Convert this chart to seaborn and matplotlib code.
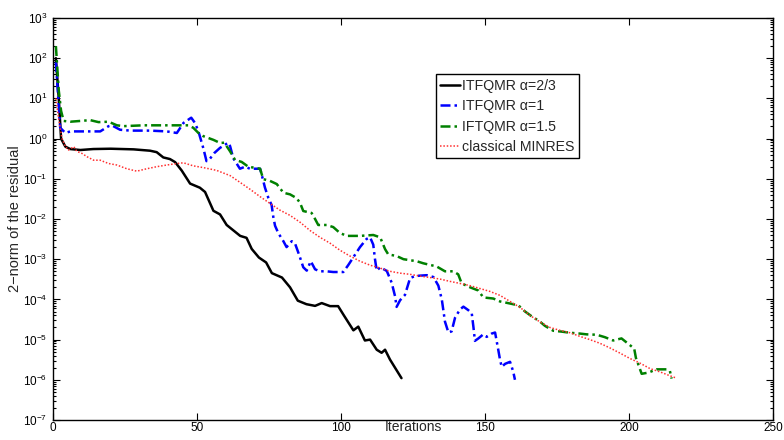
import matplotlib
matplotlib.use("Agg")
import matplotlib.pyplot as plt
import matplotlib.ticker as mticker
import numpy as np
import pandas as pd
import seaborn as sns

# ---------------- data ----------------
black_iter = [1, 2, 2.8, 4.3, 6, 9.5, 14, 20, 28, 33.7, 36, 38.3, 40.6, 42.4, 44.7,
              47.6, 51, 52.8, 55.7, 58, 60.3, 65, 67.2, 69, 71.5, 74, 76, 79.5, 82.3,
              85, 88, 91, 93.3, 96.2, 99, 101, 104.3, 106, 108.3, 110.1, 112.4, 114.1,
              115.3, 117, 121]
black_res = [1.0e2, 1.0e1, 1.0e0, 6.3e-1, 5.5e-1, 5.2e-1, 5.5e-1, 5.6e-1, 5.4e-1, 5.0e-1,
             4.6e-1, 3.4e-1, 3.1e-1, 2.6e-1, 1.6e-1, 7.6e-2, 6.0e-2, 4.7e-2, 1.6e-2, 1.3e-2,
             7.1e-3, 3.8e-3, 3.4e-3, 1.8e-3, 1.1e-3, 8.3e-4, 4.5e-4, 3.5e-4, 2.0e-4, 9.3e-5,
             7.6e-5, 6.9e-5, 8.1e-5, 6.8e-5, 6.8e-5, 4.0e-5, 1.7e-5, 2.1e-5, 9.5e-6, 1.0e-5,
             5.6e-6, 4.7e-6, 5.6e-6, 3.2e-6, 1.1e-6]

blue_iter = [1, 2.5, 4.3, 6, 10.6, 16.4, 19.3, 20.4, 23.3, 26.8, 33.7, 39.5, 43, 45.3, 48,
             49.3, 50.5, 52.2, 53.3, 54.5, 56, 58, 60.9, 61.5, 62.6, 64.9, 66.7, 68.4, 71.9,
             72.4, 73.6, 74.8, 75.9, 76.5, 77.1, 78.2, 80, 81.1, 82.9, 84, 85.5, 86.9, 88.1,
             89.5, 91, 92.7, 95, 97.3, 100.8, 102.5, 104.3, 106.6, 108.9, 110.1, 111.2, 111.8,
             112.4, 113.6, 115.9, 117.6, 118.8, 119.3, 120.5, 122.2, 124, 125.7, 127.4, 129.8,
             132.1, 133.8, 135, 136.1, 137.3, 138.4, 139.6, 141.3, 142.5, 144.2, 145.4, 146,
             146.5, 147.7, 149.4, 150.6, 152.3, 153.5, 154.6, 155.2, 155.8, 157, 158.7, 159.8,
             160.4]
blue_res = [8.0e1, 1.86, 1.38, 1.51, 1.51, 1.51, 2.04, 2.14, 1.66, 1.58, 1.58, 1.51, 1.38,
            2.45, 3.31, 2.45, 1.51, 5.75e-1, 2.75e-1, 3.16e-1, 4.37e-1, 5.89e-1, 7.94e-1,
            6.46e-1, 3.24e-1, 1.78e-1, 2.0e-1, 1.78e-1, 1.78e-1, 1.32e-1, 6.03e-2, 3.31e-2,
            2.24e-2, 1.12e-2, 6.8e-3, 4.5e-3, 2.8e-3, 2.0e-3, 2.8e-3, 2.5e-3, 1.26e-3, 6.3e-4,
            5.2e-4, 8.9e-4, 5.6e-4, 5.0e-4, 5.0e-4, 4.8e-4, 4.8e-4, 7.1e-4, 1.12e-3, 2.0e-3,
            3.2e-3, 3.5e-3, 2.3e-3, 1.0e-3, 5.2e-4, 6.3e-4, 5.1e-4, 2.6e-4, 1.17e-4, 6.5e-5,
            9.5e-5, 1.29e-4, 3.4e-4, 3.8e-4, 3.9e-4, 4.0e-4, 3.6e-4, 2.2e-4, 1.0e-4, 2.8e-5,
            1.5e-5, 1.6e-5, 3.5e-5, 5.6e-5, 6.6e-5, 5.4e-5, 4.5e-5, 2.0e-5, 9.3e-6, 1.07e-5,
            1.35e-5, 1.17e-5, 1.41e-5, 1.5e-5, 5.6e-6, 3.2e-6, 2.1e-6, 2.5e-6, 2.8e-6, 1.6e-6,
            1.0e-6]

green_iter = [1, 2, 2.8, 3.7, 6, 9.5, 12.9, 15.8, 19.3, 22.2, 24.5, 31.4, 37.2, 43, 47, 48.7,
              50.5, 52.2, 55.7, 58, 59.5, 61.5, 63.2, 65.5, 67.8, 71.9, 73, 75.3, 77.7, 80,
              82.3, 84.6, 85.8, 86.9, 89.8, 91, 92.1, 95, 97.3, 99.6, 102, 106.6, 111.2, 113.6,
              115.3, 116.4, 119.3, 121.7, 126.3, 128.6, 133.2, 136.1, 139, 140.7, 141.9, 144.8,
              147.7, 149.4, 152.9, 155.2, 158.7, 161.6, 163.9, 166.2, 169.1, 170.8, 173.7,
              176.6, 179.5, 183, 185.3, 188.8, 191.6, 194.5, 197.4, 199.7, 201.8, 202.4, 204.4,
              206.7, 209.6, 213.1, 214.2, 214.8]
green_res = [2.0e2, 1.58e1, 4.9, 2.75, 2.63, 2.75, 2.88, 2.57, 2.63, 2.14, 2.04, 2.14, 2.14,
             2.14, 2.14, 1.86, 1.38, 1.15, 9.3e-1, 7.8e-1, 7.9e-1, 4.8e-1, 2.95e-1, 2.63e-1,
             2.0e-1, 1.78e-1, 9.8e-2, 8.9e-2, 7.4e-2, 4.5e-2, 4.1e-2, 3.3e-2, 2.5e-2, 1.58e-2,
             1.41e-2, 1.0e-2, 7.1e-3, 7.1e-3, 6.3e-3, 4.5e-3, 3.8e-3, 3.8e-3, 4.0e-3, 3.5e-3,
             1.78e-3, 1.32e-3, 1.2e-3, 1.0e-3, 8.9e-4, 7.9e-4, 6.6e-4, 5.0e-4, 5.0e-4, 4.2e-4,
             2.5e-4, 2.0e-4, 1.66e-4, 1.12e-4, 1.05e-4, 8.9e-5, 7.9e-5, 7.1e-5, 5.0e-5, 3.8e-5,
             2.8e-5, 2.2e-5, 1.66e-5, 1.58e-5, 1.48e-5, 1.41e-5, 1.35e-5, 1.32e-5, 1.15e-5,
             9.5e-6, 1.07e-5, 7.9e-6, 6.0e-6, 3.5e-6, 1.41e-6, 1.51e-6, 1.82e-6, 1.82e-6,
             1.66e-6, 1.07e-6]

red_iter = [1, 2, 3.1, 4.3, 5.4, 7.2, 8.3, 10, 11.8, 14.1, 16.4, 19.3, 22.2, 25.6, 29.1, 32.6,
            36, 39.5, 43, 45.3, 48.7, 52.2, 56.8, 61.5, 65, 68.4, 71.9, 75.3, 78.8, 82.3, 85.8,
            89.2, 92.7, 96.2, 99.7, 103.1, 106.6, 110.1, 113.6, 117, 120.5, 124, 127.4, 130.9,
            134.4, 137.9, 141.3, 144.8, 148.3, 151.7, 155.2, 158.7, 162.2, 165.6, 169.1, 172.6,
            176, 179.5, 183, 186.4, 189.9, 193.4, 196.9, 200.3, 203.8, 207.3, 210.7, 214.2,
            216.5]
red_res = [1.0e1, 3.0, 1.02, 6.3e-1, 5.2e-1, 6.3e-1, 4.8e-1, 4.3e-1, 3.55e-1, 2.9e-1, 2.9e-1,
           2.4e-1, 2.2e-1, 1.78e-1, 1.55e-1, 1.78e-1, 2.0e-1, 2.2e-1, 2.4e-1, 2.5e-1, 2.1e-1,
           1.9e-1, 1.62e-1, 1.2e-1, 8.1e-2, 5.5e-2, 3.6e-2, 2.45e-2, 1.66e-2, 1.23e-2, 8.3e-3,
           5.2e-3, 3.5e-3, 2.5e-3, 1.66e-3, 1.2e-3, 8.9e-4, 7.1e-4, 6.0e-4, 5.0e-4, 4.5e-4,
           4.2e-4, 3.8e-4, 3.5e-4, 3.2e-4, 2.8e-4, 2.5e-4, 2.2e-4, 1.86e-4, 1.58e-4, 1.26e-4,
           8.9e-5, 6.3e-5, 4.0e-5, 2.75e-5, 2.0e-5, 1.7e-5, 1.48e-5, 1.2e-5, 1.0e-5, 8.1e-6,
           6.2e-6, 4.6e-6, 3.4e-6, 2.6e-6, 1.9e-6, 1.58e-6, 1.26e-6, 1.1e-6]

labels = ["ITFQMR \u03b1=2/3", "ITFQMR \u03b1=1", "IFTQMR \u03b1=1.5", "classical MINRES"]
x_ticks = [0, 50, 100, 150, 200, 250]
y_ticks = [1e-7, 1e-6, 1e-5, 1e-4, 1e-3, 1e-2, 1e-1, 1e0, 1e1, 1e2, 1e3]

# ---------------- style ----------------
sns.set_style("ticks")
plt.rcParams["font.family"] = ["Liberation Sans", "DejaVu Sans"]
plt.rcParams["mathtext.fontset"] = "custom"
plt.rcParams["mathtext.rm"] = "Liberation Sans"
plt.rcParams["mathtext.it"] = "Liberation Sans:italic"

fig = plt.figure(figsize=(7.84, 4.40), dpi=100)
ax = fig.add_axes([53 / 784, 1 - 420 / 440, 720 / 784, 402 / 440])

series = [
    (black_iter, black_res, labels[0], "black", "-", 1.8),
    (blue_iter, blue_res, labels[1], "#0000ff", (0, (4, 1.6, 1, 1.6)), 1.8),
    (green_iter, green_res, labels[2], "#008000", (0, (4, 1.6, 1, 1.6)), 1.8),
    (red_iter, red_res, labels[3], "#ff3030", (0, (1, 1.2)), 1.1),
]
for xs, ys, lab, col, ls, lw in series:
    df = pd.DataFrame({"Iterations": xs, "res": ys})
    sns.lineplot(data=df, x="Iterations", y="res", ax=ax, color=col, linestyle=ls,
                 linewidth=lw, label=lab, sort=False, estimator=None)

ax.set_yscale("log")
ax.set_ylim(1e-7, 1e3)
ax.set_xlim(0, 250)
ax.set_xticks(x_ticks)
ax.yaxis.set_major_locator(mticker.FixedLocator(y_ticks))
ax.yaxis.set_major_formatter(mticker.LogFormatterSciNotation(base=10))
ax.yaxis.set_minor_locator(mticker.LogLocator(base=10, subs=np.arange(2, 10), numticks=15))
ax.yaxis.set_minor_formatter(mticker.NullFormatter())
ax.xaxis.set_minor_locator(mticker.NullLocator())

ax.tick_params(which="both", direction="in", top=True, right=True, colors="black",
               width=0.8)
ax.tick_params(which="major", length=5)
ax.tick_params(which="minor", length=2.5)
ax.tick_params(axis="x", labelsize=8.5, pad=1.5)
ax.tick_params(axis="y", labelsize=8.5, pad=4)
for sp in ax.spines.values():
    sp.set_visible(True)
    sp.set_linewidth(1.0)
    sp.set_color("black")

ax.set_xlabel("Iterations", fontsize=10, va="top")
ax.xaxis.set_label_coords(0.5, -0.001)
ax.set_ylabel("2\u2212norm of the residual", fontsize=10.5)
ax.yaxis.set_label_coords(-0.043, 0.5)

leg = ax.legend(loc="upper left", bbox_to_anchor=(0.532, 0.86), fontsize=10.2,
                frameon=True, fancybox=False, framealpha=1, edgecolor="black",
                borderaxespad=0, handlelength=1.4, handletextpad=0.15,
                borderpad=0.3, labelspacing=0.46)
leg.get_frame().set_linewidth(1.0)

fig.savefig("out.png", dpi=100)
